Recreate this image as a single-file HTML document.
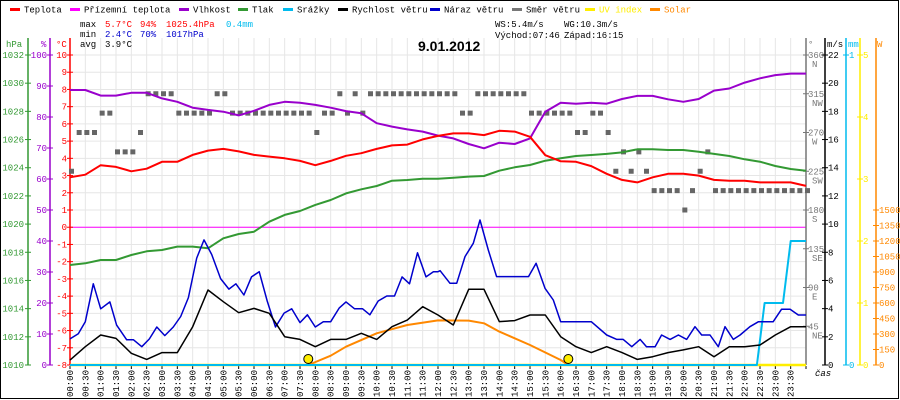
<!DOCTYPE html>
<html><head><meta charset="utf-8"><style>
html,body{margin:0;padding:0;background:#fff}
#wrap{position:relative;width:900px;height:400px;overflow:hidden}
svg text{font-family:"Liberation Mono",monospace;font-size:9px}
</style></head><body>
<div id="wrap">
<svg id="chart" width="900" height="400" viewBox="0 0 900 400" xmlns="http://www.w3.org/2000/svg">
<rect x="0.5" y="0.5" width="898" height="398" fill="#fff" stroke="#000"/>
<g id="grid"></g>
<g id="axes"></g>
<g id="series"></g>
<g id="legend"></g>
<g>
<text x="80" y="27" fill="#000">max</text>
<text x="105" y="27" fill="#f00">5.7°C</text>
<text x="140" y="27" fill="#f00">94%</text>
<text x="166" y="27" fill="#f00">1025.4hPa</text>
<text x="226" y="27" fill="#00bbee">0.4mm</text>
<text x="80" y="37" fill="#000">min</text>
<text x="105" y="37" fill="#00c">2.4°C</text>
<text x="140" y="37" fill="#00c">70%</text>
<text x="166" y="37" fill="#00c">1017hPa</text>
<text x="80" y="47" fill="#000">avg</text>
<text x="105" y="47" fill="#000">3.9°C</text>
<text x="495" y="27" fill="#000">WS:5.4m/s</text>
<text x="564" y="27" fill="#000">WG:10.3m/s</text>
<text x="495" y="38" fill="#000">Východ:07:46</text>
<text x="564" y="38" fill="#000">Západ:16:15</text>
<text x="418" y="51" fill="#000" style="font-family:'Liberation Sans',sans-serif;font-size:14px;font-weight:bold">9.01.2012</text>
</g>
</svg>
</div>
<script>
// ---- data ----
const tempC = [2.9,3.05,3.6,3.5,3.25,3.4,3.8,3.8,4.2,4.45,4.55,4.4,4.2,4.1,4.0,3.85,3.6,3.85,4.15,4.3,4.55,4.75,4.8,5.1,5.3,5.45,5.45,5.35,5.6,5.55,5.25,4.18,3.83,3.8,3.55,3.1,2.75,2.6,2.9,3.1,3.1,3.0,2.75,2.7,2.7,2.6,2.6,2.6,2.4];
const humidity = [88.7,88.7,86.9,86.9,87.8,87.8,86.0,84.9,83.0,82.3,81.7,80.5,82.0,83.9,84.9,84.6,83.9,83.0,81.9,81.2,78.0,76.9,76.0,75.3,74.0,73.1,71.3,69.9,71.7,71.3,73.1,81.7,84.6,84.3,84.6,84.3,85.8,86.8,86.8,85.7,84.9,85.8,88.5,89.2,91.1,92.5,93.5,94,94];
const pressure = [1017.1,1017.22,1017.45,1017.45,1017.81,1018.07,1018.16,1018.4,1018.4,1018.28,1018.99,1019.3,1019.46,1020.17,1020.65,1020.93,1021.36,1021.71,1022.18,1022.47,1022.7,1023.08,1023.13,1023.22,1023.22,1023.29,1023.37,1023.41,1023.79,1024.03,1024.19,1024.5,1024.67,1024.83,1024.9,1024.98,1025.09,1025.31,1025.31,1025.26,1025.26,1025.14,1024.98,1024.83,1024.6,1024.43,1024.12,1023.91,1023.79];
const windSpeed = [0.35,1.30,2.13,1.89,0.83,0.40,0.88,0.88,2.72,5.32,4.49,3.71,4.02,3.67,2.01,1.82,1.30,1.82,1.82,2.25,1.82,2.72,3.19,4.14,3.55,2.84,5.37,5.37,3.08,3.15,3.55,3.55,2.01,1.30,0.88,1.30,0.88,0.40,0.59,0.88,1.07,1.30,0.59,1.30,1.30,1.42,2.13,2.72,2.72];
const gustHours = [0,.27,.5,.76,1,1.3,1.52,1.85,2.07,2.34,2.59,2.83,3.09,3.37,3.61,3.86,4.13,4.37,4.62,4.91,5.18,5.41,5.67,5.92,6.17,6.43,6.7,6.98,7.23,7.5,7.74,8,8.26,8.5,8.78,9,9.28,9.54,9.78,10.05,10.33,10.58,10.83,11.07,11.33,11.61,11.85,12.0,12.07,12.39,12.61,12.88,13.15,13.37,13.64,13.91,14.95,15.2,15.49,15.76,16,17,17.5,17.83,18.04,18.32,18.59,18.8,19.08,19.29,19.57,19.84,20.11,20.38,20.6,20.87,21.14,21.36,21.63,21.85,22.17,22.45,22.93,23.2,23.48,23.75,24];
const gustValues = [1.85,2.22,3.07,5.76,3.99,4.48,2.83,1.79,1.79,1.30,1.85,2.70,2.09,2.70,3.44,4.78,7.59,8.88,7.84,6.13,5.39,5.76,4.97,6.25,6.62,4.54,2.70,3.68,3.99,3.01,3.56,2.70,3.07,3.07,4.05,4.48,3.99,3.99,3.56,4.54,4.90,4.90,6.25,5.76,7.96,6.25,6.62,6.62,6.69,5.80,5.80,7.69,8.64,10.29,8.16,6.27,6.27,7.22,5.44,4.61,3.07,3.07,2.13,1.82,1.82,1.30,1.82,1.30,1.30,2.13,1.82,2.13,1.82,2.72,2.13,2.13,1.30,2.72,1.82,2.13,2.72,3.07,3.07,3.95,3.95,3.55,3.55];
const rainHours = [0,22.4,22.65,23.25,23.5,24];
const rainValues = [0,0,0.2,0.2,0.4,0.4];
const solarHours = [7.77,8.5,9,10,11,12,13,13.5,14,15,16,16.25];
const solarValues = [0,90,177,307,387,432,430,404,323,194,48,0];
const windDir = [225,270,270,270,292.5,292.5,247.5,247.5,247.5,270,315,315,315,315,292.5,292.5,292.5,292.5,292.5,315,315,
292.5,292.5,292.5,292.5,292.5,292.5,292.5,292.5,292.5,292.5,292.5,270,292.5,292.5,315,292.5,315,292.5,315,315,315,315,315,315,315,315,
315,315,315,315,292.5,292.5,315,315,315,315,315,315,315,292.5,292.5,292.5,292.5,292.5,292.5,270,270,292.5,292.5,270,225,247.5,225,247.5,225,
202.5,202.5,202.5,202.5,180,202.5,225,247.5,202.5,202.5,202.5,202.5,202.5,202.5,202.5,202.5,202.5,202.5,202.5,202.5,202.5];
const sunEvents = [7.77,16.25];
const timeLabels = [];
for (let h=0; h<24; h++){ const hh=(h<10?'0':'')+h; timeLabels.push(hh+':00'); timeLabels.push(hh+':30'); }
const hpaTicks=[1010,1012,1014,1016,1018,1020,1022,1024,1026,1028,1030,1032];
const pctTicks=[0,10,20,30,40,50,60,70,80,90,100];
const degTicks=[-8,-7,-6,-5,-4,-3,-2,-1,0,1,2,3,4,5,6,7,8,9,10];
const dirTicks=[45,90,135,180,225,270,315,360];
const dirNames=['NE','E','SE','S','SW','W','NW','N'];
const msTicks=[0,2,4,6,8,10,12,14,16,18,20,22];
const uvTicks=[0,1,2,3,4,5];
const wTicks=[0,150,300,450,600,750,900,1050,1200,1350,1500];

// ---- scales ----
const X0=70, X1=806, Y0=55, YB=365;
const xH = h => X0 + h*(X1-X0)/24;
const yT = t => YB - (t+8)*(YB-Y0)/18;
const yHum = v => YB - v*(YB-Y0)/100;
const yP = p => YB - (p-1010)*(YB-Y0)/22;
const yW = w => YB - w*(YB-Y0)/22;
const yDir = d => YB - d*(YB-Y0)/360;
const yMM = m => YB - m*(YB-Y0);
const yUV = u => YB - u*(YB-Y0)/5;
const ySol = w => YB - w*155/1500;

const NS='http://www.w3.org/2000/svg';
function mk(tag, attrs, parent, txt){
  const e=document.createElementNS(NS,tag);
  for(const k in attrs) e.setAttribute(k,attrs[k]);
  if(txt!==undefined) e.textContent=txt;
  parent.appendChild(e); return e;
}
const grid=document.getElementById('grid'), axes=document.getElementById('axes'), series=document.getElementById('series'), legend=document.getElementById('legend');

for(let i=0;i<=48;i++){
  const x=xH(i/2);
  const l=mk('line',{x1:x,x2:x,y1:38,y2:YB,stroke:'#e6e6e6','stroke-width':1},grid);
  
  
  const tk=mk('line',{x1:x,x2:x,y1:YB+1,y2:YB+4,stroke:'#000','stroke-width':1},axes);
  
  
}
degTicks.forEach(t=>{
  const l=mk('line',{x1:X0,x2:X1,y1:yT(t),y2:yT(t),stroke:'#e6e6e6','stroke-width':1},grid);
  
  
});
const zl=mk('line',{x1:X0,x2:X1,y1:yT(0),y2:yT(0),stroke:'#ff00ff','stroke-width':1},grid);



timeLabels.forEach((s,i)=>{
  const x=xH(i/2)+3;
  const t=mk('text',{x:x,y:370,transform:`rotate(-90 ${x} 370)`,'text-anchor':'end',fill:'#000','font-size':'8'},axes,s);
  
  
});
const cas=mk('text',{x:815,y:376,fill:'#000','font-style':'italic'},axes,'čas');



function vAxis(x,color,ticks,yf,labelX,anchor,name){
  const ln=mk('line',{x1:x,x2:x,y1:38,y2:YB,stroke:color,'stroke-width':1.5},axes);
  
  
  ticks.forEach(v=>{
    const y=yf(v);
    const tk=mk('line',{x1:x-3,x2:x+3,y1:y,y2:y,stroke:color},axes);
    
    
    const t=mk('text',{x:labelX,y:y+3,'text-anchor':anchor,fill:color,'font-size':'8.5'},axes,String(v));
    
    
  });
}
vAxis(28,'#339933',hpaTicks,yP,24,'end','pressure');
vAxis(50,'#9900cc',pctTicks,yHum,47,'end','humidity');
vAxis(X0,'#ff0000',degTicks,yT,67,'end','temperature');
vAxis(X1,'#777777',dirTicks,yDir,808,'start','direction');
dirTicks.forEach((d,i)=>{
  const t=mk('text',{x:812,y:yDir(d)+12,fill:'#777','font-size':'8.5'},axes,dirNames[i]);
  
  
});
vAxis(825,'#000000',msTicks,yW,828,'start','wind-speed');
vAxis(846,'#00bbee',[0,1],yMM,849,'start','rain');
vAxis(860,'#ffee00',uvTicks,yUV,863,'start','uv');
vAxis(876,'#ff8800',wTicks,ySol,879,'start','solar');
[['hPa',6,'#339933'],['%',41,'#9900cc'],['°C',56,'#ff0000'],['°',808,'#777'],['m/s',827,'#000'],['mm',848,'#00bbee'],['W',877,'#ff8800']].forEach(a=>{
  const t=mk('text',{x:a[1],y:47,fill:a[2]},axes,a[0]);
  
  
});

function line(xs,ys,color,name,w){
  const pts=xs.map((x,i)=>x.toFixed(1)+','+ys[i].toFixed(1)).join(' ');
  const p=mk('polyline',{points:pts,fill:'none',stroke:color,'stroke-width':w||1.5,'stroke-linejoin':'round'},series);
  
  
}
const half = arr => arr.map((_,i)=>xH(i/2));
const uvl=mk('line',{x1:X0,x2:X1,y1:yUV(0),y2:yUV(0),stroke:'#ffee00','stroke-width':2.5},series);


windDir.forEach((d,q)=>{
  const r=mk('rect',{x:xH(q/4)-1,y:yDir(d)-2.5,width:5,height:5,fill:'#666'},series);
  
  
});
line(solarHours.map(xH),solarValues.map(ySol),'#ff8800','solar-line',2);
line(rainHours.map(xH),rainValues.map(yMM),'#00bbee','rain-line',2);
line(half(pressure),pressure.map(yP),'#339933','pressure-line',2);
line(half(humidity),humidity.map(yHum),'#9900cc','humidity-line',2);
line(half(tempC),tempC.map(yT),'#ff0000','temperature-line',2);
line(gustHours.map(xH),gustValues.map(yW),'#0000cc','wind-gust-line',1.5);
line(half(windSpeed),windSpeed.map(yW),'#000000','wind-speed-line',1.5);
sunEvents.forEach(h=>{
  const c=mk('circle',{cx:xH(h),cy:YB-6,r:4.5,fill:'#ffee00',stroke:'#000','stroke-width':1},series);
  
  
});

const legItems=[['Teplota','#ff0000',10],['Přízemní teplota','#ff00ff',70],['Vlhkost','#9900cc',179],['Tlak','#339933',238],['Srážky','#00bbee',283],['Rychlost větru','#000000',338],['Náraz větru','#0000cc',430],['Směr větru','#777777',512],['UV index','#ffee00',585],['Solar','#ff8800',650]];
legItems.forEach(a=>{
  const r=mk('rect',{x:a[2],y:8,width:10,height:3,fill:a[1]},legend);
  
  
  const t=mk('text',{x:a[2]+14,y:12.5,fill:(a[1]==='#ffee00'||a[1]==='#ff8800')?a[1]:'#000','font-size':'9.5'},legend,a[0]);
  
  
});
</script>
</body></html>
